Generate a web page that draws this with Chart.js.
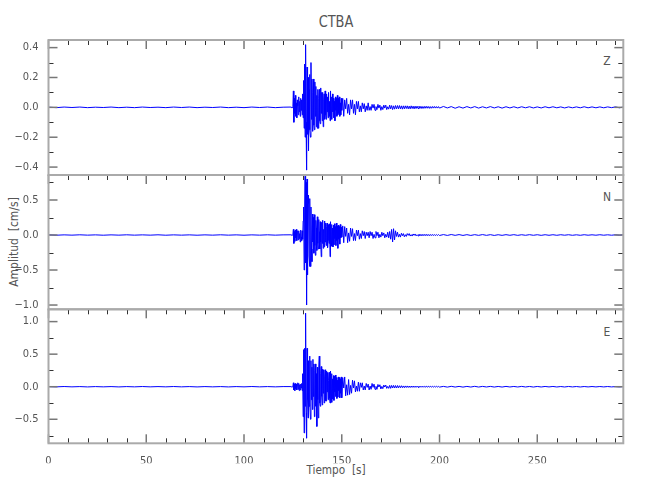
<!DOCTYPE html>
<html>
<head>
<meta charset="utf-8">
<script src="https://cdn.jsdelivr.net/npm/chart.js@4.4.0/dist/chart.umd.min.js"></script>
<style>
body{margin:0;background:#fff;width:650px;height:500px;position:relative;overflow:hidden;
	font-family:"Liberation Sans Narrow","DejaVu Sans Condensed",sans-serif;color:#555}
canvas{position:absolute;left:0}
.txt{position:absolute;white-space:pre;line-height:1}
</style>
</head>
<body>
<div class="txt" style="left:336px;top:14px;font-size:16px;transform:translateX(-50%) scaleX(0.9)">CTBA</div>
<div class="txt" style="left:14px;top:242px;font-size:12px;transform:translate(-50%,-50%) rotate(-90deg)">Amplitud  [cm/s]</div>
<div class="txt" style="left:336px;top:463px;font-size:13px;transform:translateX(-50%) scaleX(0.9)">Tiempo  [s]</div>
<div class="txt" style="left:607px;top:55px;font-size:12px;transform:translateX(-50%)">Z</div>
<div class="txt" style="left:607px;top:191px;font-size:12px;transform:translateX(-50%)">N</div>
<div class="txt" style="left:607px;top:326px;font-size:12px;transform:translateX(-50%)">E</div>

<canvas id="cZ" width="650" height="155" style="top:30px"></canvas>
<canvas id="cN" width="650" height="155" style="top:165px"></canvas>
<canvas id="cE" width="650" height="165" style="top:299px"></canvas>

<script>
// muestreo: pre-evento cada 4 s desde 0, fase fuerte cada 0.25 s desde 124,
// coda cada 0.5 s desde 150, cola cada 2 s desde 200
var preT0 = 0, preDt = 4;
var strongT0 = 124, strongDt = 0.25;
var codaT0 = 150, codaDt = 0.5;
var tailT0 = 200, tailDt = 2;

var xMax = 294;
var xTicks = [0, 50, 100, 150, 200, 250];
var xMinor = [10,20,30,40,60,70,80,90,110,120,130,140,160,170,180,190,210,220,230,240,260,270,280,290];

// ---- componente Z ----
var zRange = [-0.453, 0.451];
var zTicks = [-0.4, -0.2, 0, 0.2, 0.4];
var zMinor = [-0.3, -0.1, 0.1, 0.3];
var zPre = [0.001,-0.002,0.002,-0.001,0.002,-0.002,0.001,-0.001,0.002,-0.002,
	0.001,-0.002,0.002,-0.001,0.001,-0.002,0.002,-0.001,0.002,-0.002,
	0.001,-0.001,0.002,-0.002,0.001,-0.002,0.002,-0.001,0.002,-0.002,0.001];
var zStrong = [
	0.002,-0.002,0.003,-0.002,0.004,0.11,-0.10,0.06,
	-0.04,0.08,-0.06,0.03,-0.07,0.05,0.01,-0.05,
	0.07,-0.03,0.04,-0.06,0.06,-0.02,0.05,-0.05,
	0.09,-0.07,0.18,-0.14,0.29,-0.20,0.42,-0.10,
	-0.42,0.27,-0.18,0.20,-0.29,0.12,0.22,-0.15,
	-0.20,0.30,-0.08,0.19,-0.16,0.10,0.19,-0.12,
	-0.15,0.17,-0.06,0.14,-0.13,0.08,-0.14,0.12,
	-0.14,0.06,0.12,-0.09,-0.11,0.13,-0.04,0.10,
	-0.09,0.10,-0.13,0.05,0.09,-0.08,0.11,-0.05,
	-0.08,0.09,-0.03,0.07,-0.07,0.10,-0.06,0.04,
	-0.09,0.11,-0.05,0.07,-0.08,0.09,-0.03,0.06,
	-0.07,0.04,-0.09,0.07,-0.02,0.06,-0.06,0.08,
	-0.05,0.06,-0.04,0.07,-0.06,0.03,-0.05,0.06];
var zCoda = [
	-0.02,0.06,-0.06,0.05,-0.01,0.06,-0.04,0.02,
	-0.05,0.05,-0.01,0.05,-0.04,0.02,-0.05,0.04,-0.01,0.04,
	-0.03,0.01,-0.03,0.03,-0.01,0.025,-0.03,0.01,-0.02,0.03,
	-0.02,0.005,-0.02,0.02,-0.005,0.02,-0.02,0.005,-0.015,0.02,
	-0.005,0.015,-0.02,0.005,-0.015,0.015,-0.005,0.015,-0.015,0.004,
	-0.012,0.015,-0.01,0.012,-0.015,0.01,-0.012,0.012,-0.01,0.012,
	-0.01,0.012,-0.01,0.01,-0.012,0.01,-0.01,0.01,-0.008,0.01,
	-0.01,0.008,-0.01,0.01,-0.008,0.008,-0.01,0.008,-0.008,0.008,
	-0.008,0.008,-0.007,0.007,-0.008,0.006,-0.007,0.007,-0.006,0.007,
	-0.006,0.006,-0.007,0.005,-0.006,0.006,-0.005,0.006,-0.005,0.005,
	-0.005,0.005];
var zTail = [
	-0.005,0.006,-0.004,0.005,-0.006,0.004,-0.005,0.005,-0.004,0.005,
	-0.005,0.004,-0.004,0.005,-0.004,0.004,-0.005,0.004,-0.004,0.004,
	-0.004,0.004,-0.003,0.004,-0.004,0.003,-0.004,0.004,-0.003,0.004,
	-0.003,0.003,-0.004,0.003,-0.003,0.003,-0.003,0.004,-0.003,0.003,
	-0.003,0.003,-0.003,0.003,-0.002,0.003,-0.003,0.002];

// ---- componente N ----
var nRange = [-1.061, 0.857];
var nTicks = [-1.0, -0.5, 0, 0.5];
var nMinor = [-0.75, -0.25, 0.25, 0.75];
var nPre = [0.002,-0.003,0.002,-0.002,0.003,-0.002,0.002,-0.003,0.002,-0.002,
	0.003,-0.002,0.002,-0.002,0.003,-0.003,0.002,-0.002,0.002,-0.003,
	0.002,-0.002,0.003,-0.002,0.002,-0.003,0.002,-0.002,0.003,-0.002,0.002];
var nStrong = [
	0.003,-0.003,0.004,-0.003,0.005,0.08,-0.12,0.05,
	-0.09,0.07,-0.04,0.08,-0.08,0.03,0.06,-0.07,
	0.06,-0.05,0.02,-0.10,0.07,-0.03,-0.08,0.06,
	-0.06,0.20,0.40,-0.50,0.30,0.84,-0.40,0.75,
	-1.00,0.80,-0.57,0.45,0.57,-0.30,-0.45,0.52,
	-0.45,0.40,-0.20,-0.38,0.30,-0.10,0.25,-0.26,
	0.29,-0.15,-0.29,0.21,0.10,-0.22,0.26,-0.12,
	-0.20,0.22,0.05,-0.20,0.19,-0.10,-0.31,0.18,
	-0.12,0.21,-0.19,0.08,-0.17,0.20,-0.10,0.17,
	-0.15,0.12,0.17,-0.18,-0.08,0.15,-0.12,0.16,
	-0.31,0.19,-0.06,0.15,-0.16,0.10,-0.17,0.14,
	-0.14,0.16,-0.05,0.12,-0.15,0.17,-0.08,0.13,
	-0.19,0.14,-0.06,0.12,-0.13,0.15,-0.04,0.11];
var nCoda = [
	-0.03,0.13,-0.11,0.12,-0.02,0.10,-0.11,0.03,
	-0.09,0.10,-0.02,0.09,-0.08,0.02,-0.08,0.07,-0.01,0.07,
	-0.06,0.02,-0.05,0.06,-0.01,0.05,-0.05,0.04,-0.01,0.04,
	-0.04,0.05,-0.01,0.04,-0.05,0.01,-0.04,0.05,-0.01,0.04,
	-0.04,0.01,-0.03,0.04,-0.01,0.03,-0.04,0.01,-0.03,0.04,
	-0.04,0.05,-0.06,0.08,-0.10,0.09,-0.07,0.06,-0.02,0.04,
	-0.03,0.01,-0.03,0.025,-0.01,0.02,-0.025,0.005,-0.02,0.02,
	-0.005,0.02,-0.015,0.005,-0.015,0.015,-0.005,0.015,-0.012,0.004,
	-0.012,0.012,-0.012,0.01,-0.012,0.01,-0.01,0.01,-0.01,0.01,
	-0.01,0.008,-0.01,0.008,-0.008,0.008,-0.008,0.007,-0.008,0.007,
	-0.007,0.007];
var nTail = [
	-0.007,0.006,-0.006,0.007,-0.005,0.006,-0.006,0.005,-0.006,0.005,
	-0.005,0.006,-0.005,0.005,-0.006,0.004,-0.005,0.005,-0.004,0.005,
	-0.005,0.004,-0.004,0.005,-0.004,0.004,-0.005,0.004,-0.004,0.004,
	-0.004,0.004,-0.003,0.004,-0.004,0.003,-0.004,0.004,-0.003,0.003,
	-0.003,0.004,-0.003,0.003,-0.003,0.003,-0.003,0.003];

// ---- componente E ----
var eRange = [-0.869, 1.189];
var eTicks = [-0.5, 0, 0.5, 1.0];
var eMinor = [-0.75, -0.25, 0.25, 0.75];
var ePre = [0.002,-0.002,0.003,-0.002,0.002,-0.003,0.002,-0.002,0.002,-0.003,
	0.002,-0.002,0.003,-0.002,0.002,-0.002,0.003,-0.002,0.002,-0.003,
	0.002,-0.002,0.002,-0.003,0.002,-0.002,0.003,-0.002,0.002,-0.002,0.002];
var eStrong = [
	0.002,-0.003,0.003,-0.002,0.003,0.06,-0.05,0.04,
	-0.06,0.05,-0.03,0.04,-0.05,0.02,0.06,-0.04,
	0.05,-0.06,0.03,-0.05,0.04,-0.02,0.05,-0.06,
	0.20,-0.46,0.57,-0.71,0.59,-0.30,1.13,-0.40,
	-0.79,0.59,-0.20,-0.48,0.40,-0.30,0.47,-0.25,
	-0.50,0.40,-0.20,0.30,-0.35,0.42,-0.15,0.35,
	-0.46,0.25,0.35,-0.30,0.20,-0.61,0.30,-0.20,
	-0.48,0.30,0.47,-0.25,-0.30,0.20,0.31,-0.15,
	-0.28,0.27,-0.10,0.26,-0.25,0.15,0.26,-0.22,
	-0.22,0.24,-0.08,0.22,-0.20,0.10,0.22,-0.18,
	-0.25,0.24,-0.10,0.20,-0.24,0.12,-0.19,0.17,
	-0.21,0.16,-0.08,0.18,-0.15,0.14,-0.18,0.10,
	-0.16,0.15,-0.06,0.14,-0.17,0.12,-0.10,0.15];
var eCoda = [
	-0.17,0.14,-0.02,0.15,-0.14,0.03,-0.13,0.11,
	-0.12,0.02,-0.10,0.10,-0.02,0.09,-0.08,0.01,-0.07,0.07,
	-0.07,0.06,-0.01,0.06,-0.05,0.01,-0.05,0.05,-0.01,0.04,
	-0.05,0.01,-0.04,0.05,-0.01,0.04,-0.04,0.005,-0.04,0.035,
	-0.005,0.03,-0.035,0.005,-0.03,0.025,-0.005,0.025,-0.025,0.005,
	-0.025,0.02,-0.025,0.02,-0.02,0.02,-0.02,0.018,-0.02,0.018,
	-0.018,0.015,-0.015,0.015,-0.015,0.012,-0.015,0.012,-0.012,0.012,
	-0.012,0.01,-0.012,0.01,-0.01,0.01,-0.01,0.009,-0.01,0.009,
	-0.009,0.008,-0.008,0.008,-0.008,0.008,-0.008,0.007,-0.007,0.007,
	-0.007,0.007,-0.006,0.006,-0.006,0.006,-0.006,0.006,-0.005,0.006,
	-0.005,0.005];
var eTail = [
	-0.006,0.005,-0.006,0.006,-0.005,0.005,-0.006,0.005,-0.005,0.006,
	-0.005,0.005,-0.004,0.005,-0.005,0.004,-0.005,0.005,-0.004,0.004,
	-0.004,0.005,-0.004,0.004,-0.005,0.004,-0.004,0.004,-0.003,0.004,
	-0.004,0.003,-0.004,0.004,-0.003,0.003,-0.004,0.003,-0.003,0.003,
	-0.003,0.003,-0.003,0.003,-0.003,0.002,-0.003,0.003];

var FONT = '"Liberation Sans Narrow","DejaVu Sans Condensed",sans-serif';

function toPoints(pre, strong, coda, tail){
	var pts = [];
	pre.forEach(function(v, i){ pts.push({x: preT0 + i*preDt, y: v}); });
	strong.forEach(function(v, i){ pts.push({x: strongT0 + i*strongDt, y: v}); });
	coda.forEach(function(v, i){ pts.push({x: codaT0 + i*codaDt, y: v}); });
	tail.forEach(function(v, i){ pts.push({x: tailT0 + i*tailDt, y: v}); });
	return pts;
}

function fmtY(v){
	if (Math.abs(v) < 1e-9) return '0.0';
	return (v < 0 ? '\u2212' : '') + Math.abs(v).toFixed(1);
}

// marco y marcas de graduación estilo IDL
var framePlugin = {
	id: 'frame',
	afterDraw: function(chart, args, opts){
		var ctx = chart.ctx, a = chart.chartArea;
		var x = chart.scales.x, y = chart.scales.y;
		function seg(x1, y1, x2, y2){ ctx.beginPath(); ctx.moveTo(x1, y1); ctx.lineTo(x2, y2); ctx.stroke(); }
		ctx.save();
		// menores
		ctx.strokeStyle = '#333'; ctx.lineWidth = 1;
		xMinor.forEach(function(v){
			var px = Math.round(x.getPixelForValue(v)) + 0.5;
			seg(px, a.top, px, a.top + 5);
			if (opts.bottomTicks) seg(px, a.bottom, px, a.bottom - 5);
		});
		opts.minor.forEach(function(v){
			var py = Math.round(y.getPixelForValue(v)) + 0.5;
			seg(a.left, py, a.left + 5, py);
			seg(a.right, py, a.right - 5, py);
		});
		// mayores
		ctx.strokeStyle = '#777'; ctx.lineWidth = 1.5;
		xTicks.forEach(function(v){
			var px = x.getPixelForValue(v);
			seg(px, a.top, px, a.top + 9);
			if (opts.bottomTicks) seg(px, a.bottom, px, a.bottom - 9);
		});
		opts.major.forEach(function(v){
			var py = y.getPixelForValue(v);
			seg(a.left, py, a.left + 9, py);
			seg(a.right, py, a.right - 9, py);
		});
		// marco
		ctx.strokeStyle = '#aaa'; ctx.lineWidth = 2;
		ctx.strokeRect(a.left, a.top, a.right - a.left, a.bottom - a.top);
		ctx.restore();
	}
};

function makePanel(id, pts, range, major, minor, showX, pad){
	new Chart(document.getElementById(id), {
		type: 'line',
		data: {
			datasets: [{
				data: pts,
				borderColor: '#0000ff',
				borderWidth: 1,
				pointRadius: 0,
				tension: 0,
				fill: false
			}]
		},
		options: {
			responsive: false,
			animation: false,
			parsing: false,
			events: [],
			layout: { padding: pad },
			plugins: {
				legend: { display: false },
				tooltip: { enabled: false },
				frame: { major: major, minor: minor, bottomTicks: showX }
			},
			scales: {
				x: {
					type: 'linear', min: 0, max: xMax,
					display: showX,
					grid: { display: false },
					border: { display: false },
					ticks: { color: '#555', font: { family: FONT, size: 11 }, padding: 3, maxRotation: 0, autoSkip: false,
						callback: function(v){ return String(v); } },
					afterBuildTicks: function(s){ s.ticks = xTicks.map(function(v){ return {value: v}; }); },
					afterFit: function(s){ s.height = showX ? 20 : 0; }
				},
				y: {
					type: 'linear', min: range[0], max: range[1],
					grid: { display: false },
					border: { display: false },
					ticks: { color: '#555', font: { family: FONT, size: 11 }, padding: 2, autoSkip: false,
						callback: fmtY },
					afterBuildTicks: function(s){ s.ticks = major.map(function(v){ return {value: v}; }); },
					afterFit: function(s){ s.width = 48.5; }
				}
			}
		},
		plugins: [framePlugin]
	});
}

makePanel('cZ', toPoints(zPre, zStrong, zCoda, zTail), zRange, zTicks, zMinor, false,
	{ top: 10, bottom: 10, left: 0, right: 26.7 });
makePanel('cN', toPoints(nPre, nStrong, nCoda, nTail), nRange, nTicks, nMinor, false,
	{ top: 10, bottom: 10.7, left: 0, right: 26.7 });
makePanel('cE', toPoints(ePre, eStrong, eCoda, eTail), eRange, eTicks, eMinor, true,
	{ top: 10.3, bottom: 0.7, left: 0, right: 26.7 });
</script>
</body>
</html>
